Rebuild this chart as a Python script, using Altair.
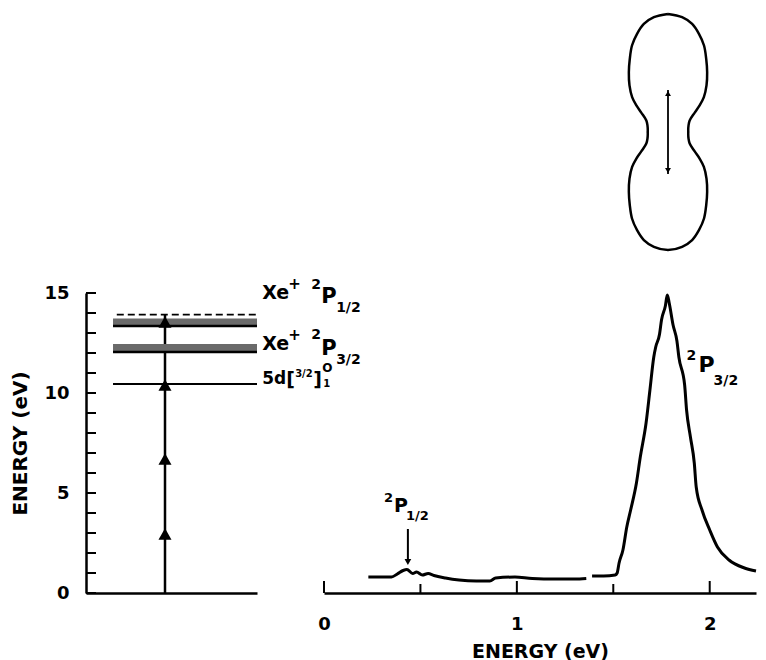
import altair as alt
import pandas as pd

# ---------------- data ----------------
# photoelectron spectrum (energy in eV, signal in arbitrary units)
spec_e_low = [0.23, 0.29, 0.35, 0.38, 0.41, 0.43, 0.46, 0.48, 0.51, 0.54, 0.57,
              0.63, 0.70, 0.79, 0.86, 0.89, 0.99, 1.08, 1.20, 1.30, 1.36]
spec_s_low = [16, 16, 16, 19, 22.5, 23.5, 19.5, 21, 18, 19.5, 17.5,
              15, 13, 12, 12, 15, 16, 14.5, 14, 14, 14.5]
spec_e_high = [1.39, 1.45, 1.51, 1.52, 1.53, 1.55, 1.57, 1.59, 1.62, 1.64, 1.67,
               1.69, 1.71, 1.72, 1.74, 1.75, 1.77, 1.78, 1.79, 1.81, 1.83, 1.84,
               1.87, 1.88, 1.90, 1.92, 1.93, 1.96, 2.00, 2.04, 2.10, 2.18, 2.24]
spec_s_high = [17, 17, 18, 20, 30, 43, 66, 83, 110, 136, 170,
               203, 236, 246, 259, 273, 287, 298, 290, 268, 252, 236,
               208, 183, 156, 130, 106, 83, 63, 46, 33, 25, 22]

# energy-level diagram (eV)
photon_steps = [2.95, 6.7, 10.4, 13.55]
level_5d = 10.45
ion_32 = [12.05, 12.45]      # Xe+ 2P3/2 threshold (hatched band)
ion_12 = [13.35, 13.72]      # Xe+ 2P1/2 threshold (hatched band)
total_photon = 13.92         # dashed line
energy_ticks = list(range(16))
energy_labels = [0, 5, 10, 15]

# spectrum axis
spec_ticks_major = [0, 1, 2]
spec_ticks_minor = [0.5, 1.5]

# peak positions (eV)
peak_12 = 0.435
peak_32 = 1.88

# photoelectron angular distribution (one quadrant, normalised)
pad_theta = [0, 7, 12.6, 17.5, 22.6, 27.6, 33.2, 39.6, 45.8, 50, 54, 62, 72, 85, 90]
pad_r = [1.0, 0.98, 0.938, 0.872, 0.794, 0.699, 0.606, 0.512, 0.424, 0.35,
         0.28, 0.208, 0.183, 0.172, 0.172]
pol_arrow = 0.356

# ---------------- layout constants ----------------
FONT = "DejaVu Sans"
WL, WR, HT, HB = 171, 432, 240, 300
X0_LEVEL, X1_LEVEL, X0_DASH, X_EXC, X_LAB = 0.158, 1.0, 0.18, 0.462, 1.03

# ---------------- left panel: energy levels ----------------
lx = alt.Scale(domain=[0, 1], nice=False, zero=False)
ly = alt.Scale(domain=[0, 15], nice=False)
ax_lx = alt.Axis(labels=False, ticks=False, tickSize=0, title=None, grid=False, domainWidth=2.5)
ax_ly = alt.Axis(values=energy_labels, ticks=False, tickSize=0, labelPadding=17, labelFlush=False,
                 title="ENERGY (eV)", titlePadding=13, grid=False, domainWidth=2.5)


def XL(f):
    return alt.X(field=f, type="quantitative", scale=lx, axis=ax_lx)


def YL(f):
    return alt.Y(field=f, type="quantitative", scale=ly, axis=ax_ly)


vert = alt.Chart(pd.DataFrame({"x": [X_EXC], "e0": [0], "e1": [total_photon]})).mark_rule(
    color="black", strokeWidth=2.5).encode(x=XL("x"), y=YL("e0"), y2="e1")

tri = alt.Chart(pd.DataFrame({"x": [X_EXC] * len(photon_steps), "e": photon_steps})).mark_point(
    shape="triangle-up", filled=True, size=170, color="black", opacity=1).encode(x=XL("x"), y=YL("e"))

bands = pd.DataFrame({"x0": [X0_LEVEL, X0_LEVEL], "x1": [X1_LEVEL, X1_LEVEL],
                      "lo": [ion_32[0], ion_12[0]], "hi": [ion_32[1], ion_12[1]]})
band_rect = alt.Chart(bands).mark_rect(color="#6a6a6a").encode(
    x=XL("x0"), x2="x1", y=YL("lo"), y2="hi")
band_line = alt.Chart(bands).mark_rule(color="black", strokeWidth=2.5).encode(
    x=XL("x0"), x2="x1", y=YL("lo"))

line5d = alt.Chart(pd.DataFrame({"x0": [X0_LEVEL], "x1": [X1_LEVEL], "e": [level_5d]})).mark_rule(
    color="black", strokeWidth=1.8).encode(x=XL("x0"), x2="x1", y=YL("e"))

dash = alt.Chart(pd.DataFrame({"x0": [X0_DASH], "x1": [X1_LEVEL], "e": [total_photon]})).mark_rule(
    color="black", strokeWidth=1.8, strokeDash=[7, 4]).encode(x=XL("x0"), x2="x1", y=YL("e"))

lticks = alt.Chart(pd.DataFrame({"v": energy_ticks})).mark_rule(color="black", strokeWidth=2).encode(
    y=YL("v"), x=alt.value(0), x2=alt.value(10))


def piece(text, xv, yv, dx, dy, size, X, Y, weight="bold"):
    return alt.Chart(pd.DataFrame({"x": [xv], "y": [yv]})).mark_text(
        text=text, align="left", baseline="alphabetic", dx=dx, dy=dy, fontSize=size,
        font=FONT, fontWeight=weight, color="black").encode(x=X("x"), y=Y("y"))


row1 = 14.7
row2 = 12.15
row3 = level_5d
left_text = [
    ("Xe", row1, 0, 0, 19), ("+", row1, 26, -10, 15), ("2", row1, 49, -10, 14),
    ("P", row1, 59, 4, 21), ("1/2", row1, 74, 13, 14),
    ("Xe", row2, 0, 0, 19), ("+", row2, 26, -10, 15), ("2", row2, 49, -11, 14),
    ("P", row2, 59, 5, 21), ("3/2", row2, 74, 14, 14),
    ("5d", row3, 0, 0, 17), ("[", row3, 24, 2, 19), ("3/2", row3, 33, -7, 10),
    ("]", row3, 51, 2, 19), ("O", row3, 60, -12, 12), ("1", row3, 61, 3, 10),
]
left_layers = [piece(t, X_LAB, yv, dx, dy, s, XL, YL) for (t, yv, dx, dy, s) in left_text]

left = alt.layer(vert, band_rect, band_line, line5d, dash, tri, lticks, *left_layers).properties(
    width=WL, height=HB)

# ---------------- right panel: spectrum ----------------
rx = alt.Scale(domain=[0, 2.24], nice=False, zero=False)
ry = alt.Scale(domain=[0, 300], nice=False)
ax_rx = alt.Axis(values=spec_ticks_major, ticks=False, tickSize=0, labelPadding=22, labelFlush=False,
                 title="ENERGY (eV)", titlePadding=9, titleFontSize=19, grid=False,
                 domainWidth=2.5, format="d")


def XR(f):
    return alt.X(field=f, type="quantitative", scale=rx, axis=ax_rx)


def YR(f):
    return alt.Y(field=f, type="quantitative", scale=ry, axis=None)


spec = pd.concat([
    pd.DataFrame({"e": spec_e_low, "s": spec_s_low, "seg": "a"}),
    pd.DataFrame({"e": spec_e_high, "s": spec_s_high, "seg": "b"}),
], ignore_index=True)
spec["i"] = range(len(spec))

spec_line = alt.Chart(spec).mark_line(color="black", strokeWidth=3, strokeJoin="round",
                                      interpolate="monotone").encode(
    x=XR("e"), y=YR("s"), detail="seg:N", order="i:Q")

maj = alt.Chart(pd.DataFrame({"t": spec_ticks_major})).mark_rule(color="black", strokeWidth=2).encode(
    x=XR("t"), y=alt.value(HB), y2=alt.value(HB - 12))
mnr = alt.Chart(pd.DataFrame({"t": spec_ticks_minor})).mark_rule(color="black", strokeWidth=2).encode(
    x=XR("t"), y=alt.value(HB), y2=alt.value(HB - 9))

arrow12 = alt.Chart(pd.DataFrame({"x": [peak_12], "s0": [64], "s1": [32]})).mark_rule(
    color="black", strokeWidth=2).encode(x=XR("x"), y=YR("s0"), y2="s1")
arrow12_head = alt.Chart(pd.DataFrame({"x": [peak_12], "s": [31]})).mark_point(
    shape="triangle-down", filled=True, size=45, color="black", opacity=1).encode(x=XR("x"), y=YR("s"))

right_text = [
    ("2", peak_12 - 0.072, 81, -10, -10, 13), ("P", peak_12 - 0.072, 81, 0, 0, 19),
    ("1/2", peak_12 - 0.072, 81, 12, 8, 13),
    ("2", peak_32, 221, 0, -12, 14), ("P", peak_32, 221, 12, 0, 22),
    ("3/2", peak_32, 221, 27, 13, 14),
]
right_layers = [piece(t, xv, yv, dx, dy, s, XR, YR) for (t, xv, yv, dx, dy, s) in right_text]

right = alt.layer(spec_line, maj, mnr, arrow12, arrow12_head, *right_layers).properties(
    width=WR, height=HB)

# ---------------- top right: polar plot of angular distribution ----------------
quads = []
n = len(pad_theta)
for k in range(n):
    quads.append((pad_theta[k], pad_r[k]))
for k in reversed(range(n - 1)):
    quads.append((180 - pad_theta[k], pad_r[k]))
for k in range(1, n):
    quads.append((180 + pad_theta[k], pad_r[k]))
for k in reversed(range(n - 1)):
    quads.append((360 - pad_theta[k], pad_r[k]))
pol = pd.DataFrame(quads, columns=["theta", "r"])
pol["i"] = range(len(pol))

px = alt.Scale(domain=[-344 / 118, (WR - 344) / 118], nice=False, zero=False)
py = alt.Scale(domain=[-(HT / 2) / 118, (HT / 2) / 118], nice=False, zero=False)

polar_line = alt.Chart(pol).transform_calculate(
    px="datum.r * sin(datum.theta * PI / 180)",
    py="datum.r * cos(datum.theta * PI / 180)",
).mark_line(color="black", strokeWidth=2.5, interpolate="catmull-rom").encode(
    x=alt.X("px:Q", scale=px, axis=None), y=alt.Y("py:Q", scale=py, axis=None), order="i:Q")

pol_arr = alt.Chart(pd.DataFrame({"x": [0], "a": [-pol_arrow], "b": [pol_arrow]})).mark_rule(
    color="black", strokeWidth=1.8).encode(
    x=alt.X("x:Q", scale=px, axis=None), y=alt.Y("a:Q", scale=py, axis=None), y2="b")
pol_heads = alt.Chart(pd.DataFrame({"x": [0, 0], "y": [pol_arrow - 0.03, -pol_arrow + 0.03],
                                    "sh": ["triangle-up", "triangle-down"]})).mark_point(
    filled=True, size=35, color="black", opacity=1).encode(
    x=alt.X("x:Q", scale=px, axis=None), y=alt.Y("y:Q", scale=py, axis=None),
    shape=alt.Shape("sh:N", scale=None))

polar = alt.layer(polar_line, pol_arr, pol_heads).properties(width=WR, height=HT)

spacer = alt.Chart(pd.DataFrame({"a": [0]})).mark_point(opacity=0, size=1).encode(
    x=alt.value(50), y=alt.value(120)).properties(width=WL, height=HT)

chart = alt.concat(spacer, polar, left, right, columns=2,
                   spacing={"row": 41, "column": 67}, bounds="flush").properties(
    padding={"left": 2, "top": 0, "right": 0, "bottom": 0}
).configure_view(stroke=None).configure_axis(
    labelFont=FONT, titleFont=FONT, labelFontSize=18, titleFontSize=20,
    labelFontWeight="bold", titleFontWeight="bold", labelColor="black",
    titleColor="black", domainColor="black")

chart.save("out.html", embed_options={"renderer": "svg", "actions": False})
